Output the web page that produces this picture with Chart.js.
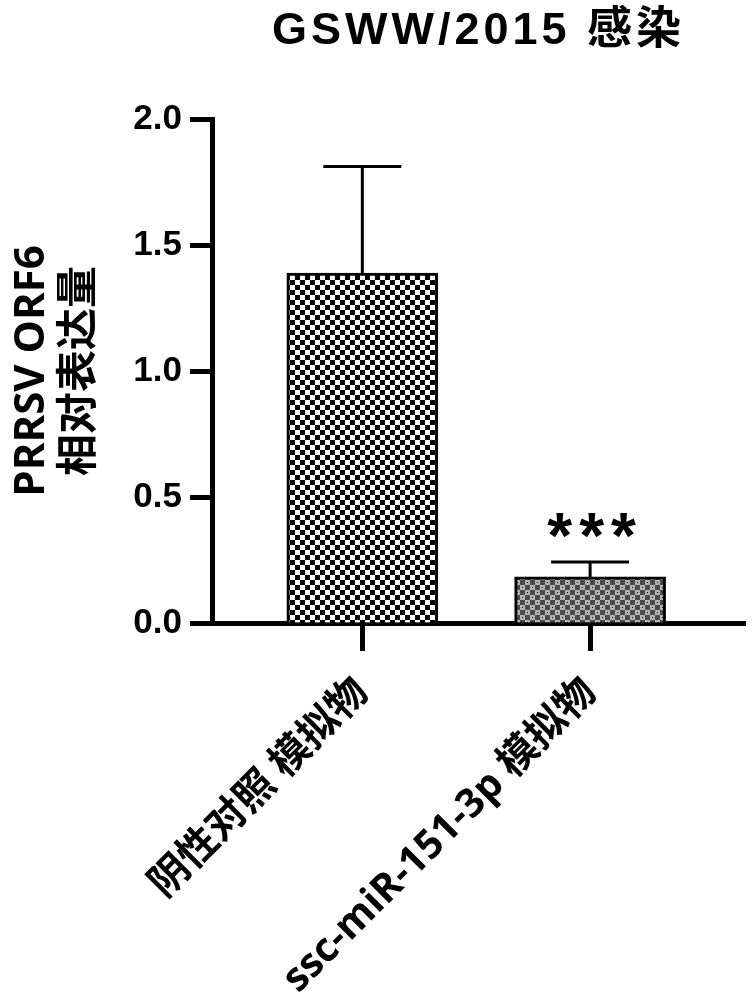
<!DOCTYPE html>
<html>
<head>
<meta charset="utf-8">
<script src="https://cdn.jsdelivr.net/npm/chart.js@4.4.1/dist/chart.umd.min.js"></script>
<style>
  body { margin: 0; background: #fff; }
</style>
</head>
<body>
<canvas id="orf6Chart" width="756" height="1000"></canvas>
<script>
// data
const categories = ['阴性对照 模拟物', 'ssc-miR-151-3p 模拟物'];
const meanValues = [1.389, 0.183];
const errorUpper = [1.812, 0.242];
const sigMarks = ['', '***'];
const yTicks = [0, 0.5, 1.0, 1.5, 2.0];

const chartTitle = 'GSWW/2015 感染';
const yTitle = ['PRRSV ORF6', '相对表达量'];

// checkerboard fills
function checker(c1, c2, size, dot) {
    const cv = document.createElement('canvas');
    cv.width = cv.height = size * 2;
    const g = cv.getContext('2d');
    g.fillStyle = c1;
    g.fillRect(0, 0, size * 2, size * 2);
    g.fillStyle = c2;
    g.fillRect(0, 0, size, size);
    g.fillRect(size, size, size, size);
    if (dot) {
        g.fillStyle = dot;
        g.fillRect(size + 2, 2, 1, 1);
        g.fillRect(2, size + 2, 1, 1);
    }
    return g.createPattern(cv, 'repeat');
}

const fills = [
    checker('#ffffff', '#000000', 5),
    checker('#b3b3b3', '#4a4a4a', 5, '#000000')
];

// title + error bars + stars
const extrasPlugin = {
    id: 'extras',
    afterDatasetsDraw(chart) {
        const ctx = chart.ctx;
        const xs = chart.scales.x, ys = chart.scales.y;
        ctx.save();
        ctx.strokeStyle = '#000';
        ctx.lineWidth = 3;
        meanValues.forEach((m, i) => {
            const x = xs.getPixelForValue(i);
            const y0 = ys.getPixelForValue(m);
            const y1 = ys.getPixelForValue(errorUpper[i]);
            ctx.beginPath();
            ctx.moveTo(x, y0);
            ctx.lineTo(x, y1);
            ctx.moveTo(x - 39, y1);
            ctx.lineTo(x + 39, y1);
            ctx.stroke();
            if (sigMarks[i]) {
                ctx.font = 'bold 64px "Liberation Sans", Arial, sans-serif';
                ctx.letterSpacing = '7px';
                ctx.fillStyle = '#000';
                ctx.textAlign = 'center';
                ctx.textBaseline = 'alphabetic';
                const mt = ctx.measureText(sigMarks[i]);
                const h = mt.actualBoundingBoxAscent - mt.actualBoundingBoxDescent;
                const cy = y1 - 17;
                ctx.fillText(sigMarks[i], x + 5, cy + mt.actualBoundingBoxAscent - h / 2);
            }
        });
        ctx.restore();
    },
    afterDraw(chart) {
        const ctx = chart.ctx;
        const area = chart.chartArea;
        ctx.save();
        ctx.font = 'bold 45px "Liberation Sans", Arial, "Noto Sans CJK SC", sans-serif';
        ctx.letterSpacing = '4px';
        ctx.fillStyle = '#000';
        ctx.textAlign = 'center';
        ctx.textBaseline = 'alphabetic';
        ctx.fillText(chartTitle, (area.left + area.right) / 2, 44);
        ctx.restore();
    }
};

Chart.defaults.color = '#000';

const ctx = document.getElementById('orf6Chart').getContext('2d');
new Chart(ctx, {
    type: 'bar',
    data: {
        datasets: [{
            data: meanValues.map((v, i) => ({ x: i, y: v })),
            backgroundColor: fills,
            borderColor: '#000',
            borderWidth: 3,
            borderSkipped: 'bottom',
            barThickness: 151
        }]
    },
    options: {
        responsive: false,
        animation: false,
        layout: { padding: { top: 119, right: 11, left: 0, bottom: 0 } },
        plugins: {
            legend: { display: false },
            tooltip: { enabled: false }
        },
        scales: {
            x: {
                type: 'linear',
                offset: false,
                min: -0.66,
                max: 1.68,
                afterBuildTicks: s => { s.ticks = categories.map((c, i) => ({ value: i })); },
                afterFit: s => { s.height = 377; },
                ticks: {
                    callback: v => categories[v],
                    autoSkip: false,
                    minRotation: 45,
                    maxRotation: 45,
                    padding: 18,
                    font: { family: '"Open Sans", "Noto Sans CJK SC", sans-serif', size: 40, weight: 'bold' }
                },
                grid: { offset: false, drawOnChartArea: false, tickLength: 28, tickWidth: 5, tickColor: '#000' },
                border: { color: '#000', width: 5 }
            },
            y: {
                min: 0,
                max: 2,
                afterBuildTicks: s => { s.ticks = yTicks.map(v => ({ value: v })); },
                afterFit: s => { s.width = 212; },
                ticks: {
                    callback: v => v.toFixed(1),
                    padding: 8,
                    font: { family: '"Liberation Sans", Arial, sans-serif', size: 35, weight: 'bold' }
                },
                grid: { drawOnChartArea: false, tickLength: 22, tickWidth: 5, tickColor: '#000' },
                border: { color: '#000', width: 5 },
                title: {
                    display: true,
                    text: yTitle,
                    padding: { top: 8, bottom: 0 },
                    font: { family: '"Open Sans", "Noto Sans CJK SC", sans-serif', size: 42, weight: 'bold', lineHeight: 1.15 }
                }
            }
        }
    },
    plugins: [extrasPlugin]
});
</script>
</body>
</html>
